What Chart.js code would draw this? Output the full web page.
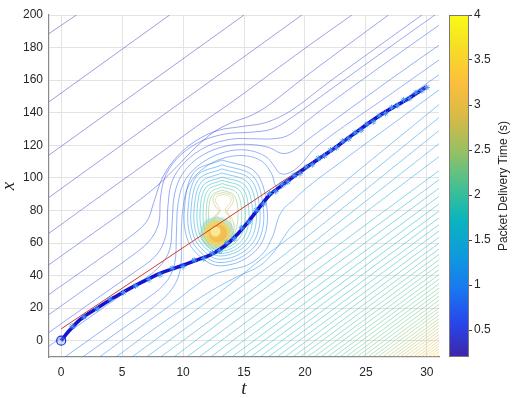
<!DOCTYPE html>
<html><head><meta charset="utf-8">
<script src="https://cdn.jsdelivr.net/npm/chart.js@4"></script>
<style>
html,body{margin:0;padding:0;background:#fff;}
#wrap{position:relative;width:515px;height:398px;}
#main{position:absolute;left:0;top:0;}
#cbar{position:absolute;left:440px;top:0;}
</style></head>
<body><div id="wrap"><canvas id="main" width="515" height="398"></canvas><canvas id="cbar" width="75" height="398"></canvas></div>
<script>
// ---------------- DATA ----------------
const tTicks = [0, 5, 10, 15, 20, 25, 30];
const xTicks = [0, 20, 40, 60, 80, 100, 120, 140, 160, 180, 200];
const cbTicks = [0.5, 1, 1.5, 2, 2.5, 3, 3.5, 4];
const cbRange = [0.2, 4];

// reference (red) line
const refT = [0, 30];
const refX = [7.3, 156.8];

// trajectory (thick blue)
const trajT = [0,0.5,0.96,1.5,2.05,3,3.96,5,5.87,7.24,8.06,9,9.97,11.07,12.16,12.98,13.8,14.5,15.44,16.5,17.17,17.6,18.3,19.07,21,22.3,23.7,26.4,28.2,29.9];
const trajX = [0,4.8,8.6,12.6,15.7,20.3,24.9,29.4,33.1,38.2,41.2,43.8,46.3,49.4,52.4,55.9,60.6,65.7,73.9,84.1,90,92.5,96.6,100.8,111,117.5,125.3,139.6,147.3,155.5];

// measured packets (light blue stars)
const markT = [0.9,1.85,2.95,4.0,5.1,6.1,7.2,8.1,9.1,10.0,10.9,11.7,12.4,13.0,13.6,14.2,14.8,15.4,16.0,16.6,17.1,17.6,18.1,18.6,19.1,19.6,20.1,20.6,21.1,21.6,22.1,22.6,23.1,23.6,24.1,24.6,25.1,25.6,26.1,26.6,27.1,27.6,28.1,28.6,29.1,29.6,30.0];
const markX = [8.9,14.7,19.6,25.5,29.6,33.7,37.6,40.5,44.5,45.6,49.5,50.4,53.8,55.2,60.2,62.6,69.3,72.8,80.1,84.0,90.4,91.7,96.3,97.6,101.5,102.7,106.7,108.1,112.0,113.5,117.0,118.6,122.5,124.0,127.7,129.2,132.9,134.4,138.1,139.6,143.1,144.5,147.9,148.9,152.3,153.6,155.5];

// start point
const startT = [0];
const startX = [0];

// contour lines of packet delivery time: level (s) and path [t, x]
const contourLevels = [
  0.25,0.29,0.33,0.37,0.42,
  0.5,0.55,0.6,0.66,0.72,0.78,0.85,1.0,1.1,1.2,1.28,1.35,1.4,
  1.45,1.5,1.55,1.6,1.64,1.68,1.72,1.76,1.8,1.84,1.88,1.92,1.96,2.0,2.03,2.06,2.09,2.12,2.15,2.18,2.21,2.24,2.27,2.3,2.35,2.4,2.46,2.52,2.58,2.64,2.7,2.77,2.84,2.91,2.98,3.05,3.12,3.19,3.26,3.33,3.4,
  0.9,1.05,1.2,1.35,1.5,1.7,1.9,2.1,2.35,2.6,2.9
];
const contourPaths = [
  [[-1,188.6],[1.25,200]],
  [[-1,146.7],[8.9,200]],
  [[-1,114],[15.0,200]],
  [[-1,88],[19.75,200]],
  [[-1,66],[4,93],[8,114.5],[11,131],[14,146.5],[17,163],[20,179.5],[23.85,200]],
  [[-1,46.7],[3,68],[6,84],[8,96],[9.5,107],[11,118.5],[12.5,128],[14,134],[15.5,138],[17,144.5],[20,162],[26.85,200]],
  [[-1,28.4],[3,49.5],[5.5,63],[7,73],[7.6,85],[8.3,100],[9.5,113],[11,122.5],[12.8,129],[14.8,131.5],[16.8,134],[18.8,141],[22,159],[29.6,200]],
  [[-1,16.1],[3,37.3],[5.5,50.5],[7.2,61],[8.0,72],[8.15,88],[8.6,102],[9.8,114],[11.5,122.5],[13.5,127],[15.5,128],[17.3,130],[19,137.5],[21.5,151],[26.9,180],[31,201.8]],
  [[-1,5.1],[3,26.3],[5.8,41],[7.8,52.5],[8.6,65],[8.75,82],[9.1,98],[10.2,110],[12,119.5],[14,123.8],[15.8,124],[17.4,124],[18.6,126],[20,134],[22,145.5],[26.9,172],[31,193.7]],
  [[-1,-3.3],[3,17.9],[6,33.7],[8,45],[8.9,56],[9.1,72],[9.3,90],[10,103],[11.5,113.5],[13.5,119.5],[15.5,120.5],[17.1,118.5],[18.1,115],[19,116.5],[20.5,125],[26.9,159.8],[31,181.5]],
  [[0.3,-10],[3.5,7],[6.5,23],[8.5,35],[9.3,47],[9.45,65],[9.6,85],[10.2,99],[11.6,109.5],[13.5,116],[15.3,117],[16.8,113],[17.5,107],[17.9,103],[18.5,102.5],[19.5,107],[21,119.4],[26.9,150.7],[31,172.4]],
  [[1.75,-10],[5,7.2],[7.7,21.5],[9.2,33],[9.8,45],[9.85,64],[10,82],[10.5,96],[11.8,106.5],[13.5,112.5],[15.2,113.5],[16.5,110],[17.3,102],[17.6,95],[18.1,93.5],[19,99.7],[21,110.3],[26.9,141.6],[31,163.3]],
  [[3.15,-10],[6.5,8.5],[9,22],[10.8,32.5],[12.3,40],[13.8,43.5],[15.3,46.5],[16.6,54],[17.4,65],[17.8,75],[18.3,81.5],[19,86],[20,93],[22,104.5],[31,154]],
  [[4.5,-10],[8,9.3],[10.5,22],[12.5,31.5],[14.5,39.5],[16.3,46],[17.5,55],[18.3,64],[18.9,70],[19.7,75],[21,84],[23,96],[31,145]],
  [[5.8,-10],[11,18.5],[14,35.5],[17,53.5],[20,70.5],[31,137]],
  [[7,-10],[12,17.5],[15,34.5],[18,51],[31,129]],
  [[8.15,-10],[13,16.5],[16,33],[31,121]],
  [[9.25,-10],[31,113]],
  [[10.3,-10],[48.3,200]],[[11.3,-10],[49.3,200]],[[12.25,-10],[50.25,200]],[[13.15,-10],[51.15,200]],
  [[14.0,-10],[52.0,200]],[[14.8,-10],[52.8,200]],[[15.55,-10],[53.55,200]],[[16.3,-10],[54.3,200]],
  [[17.0,-10],[55.0,200]],[[17.7,-10],[55.7,200]],[[18.35,-10],[56.35,200]],[[19.0,-10],[57.0,200]],
  [[19.6,-10],[57.6,200]],[[20.2,-10],[58.2,200]],[[20.75,-10],[58.75,200]],[[21.3,-10],[59.3,200]],
  [[21.85,-10],[59.85,200]],[[22.35,-10],[60.35,200]],[[22.85,-10],[60.85,200]],[[23.35,-10],[61.35,200]],
  [[23.8,-10],[61.8,200]],[[24.25,-10],[62.25,200]],[[24.7,-10],[62.7,200]],[[25.15,-10],[63.15,200]],
  [[25.55,-10],[63.55,200]],[[25.95,-10],[63.95,200]],[[26.35,-10],[64.35,200]],[[26.75,-10],[64.75,200]],
  [[27.1,-10],[65.1,200]],[[27.45,-10],[65.45,200]],[[27.8,-10],[65.8,200]],[[28.15,-10],[66.15,200]],
  [[28.5,-10],[66.5,200]],[[28.85,-10],[66.85,200]],[[29.2,-10],[67.2,200]],[[29.5,-10],[67.5,200]],
  [[29.8,-10],[67.8,200]],[[30.1,-10],[68.1,200]],[[30.4,-10],[68.4,200]],[[30.7,-10],[68.7,200]],
  [[31.0,-10],[69.0,200]],
  // closed rings around the congestion peak
  [[13.2,111],[15.98,103.25],[16.9,80],[16.53,61.3],[15.05,50.08],[13.0,46],[11.65,50.08],[10.41,61.3],[10.1,80],[10.88,103.25],[13.2,111]],
  [[13.2,108],[15.75,101],[16.6,80],[16.26,62.4],[14.9,51.84],[13.0,48],[11.8,51.84],[10.68,62.4],[10.4,80],[11.1,101],[13.2,108]],
  [[13.2,105.5],[15.53,99.13],[16.3,80],[15.99,63.5],[14.75,53.6],[13.0,50],[11.93,53.6],[10.91,63.5],[10.65,80],[11.29,99.13],[13.2,105.5]],
  [[13.2,103],[15.3,97.25],[16.0,80],[15.72,64.6],[14.6,55.36],[13.0,52],[12.05,55.36],[11.13,64.6],[10.9,80],[11.48,97.25],[13.2,103]],
  [[13.2,100.5],[15.08,95.38],[15.7,80],[15.45,65.43],[14.45,56.68],[13.0,53.5],[12.18,56.68],[11.36,65.43],[11.15,80],[11.66,95.38],[13.2,100.5]],
  [[13.2,98.5],[14.85,93.88],[15.4,80],[15.18,66.25],[14.3,58],[13.0,55],[12.3,58],[11.58,66.25],[11.4,80],[11.85,93.88],[13.2,98.5]],
  [[13.2,96.5],[14.63,92.38],[15.1,80],[14.91,67.08],[14.15,59.32],[13.0,56.5],[12.43,59.32],[11.81,67.08],[11.65,80],[12.04,92.38],[13.2,96.5]],
  [[13.2,94.5],[14.4,90.88],[14.8,80],[14.64,67.9],[14.0,60.64],[13.0,58],[12.55,60.64],[12.03,67.9],[11.9,80],[12.23,90.88],[13.2,94.5]],
  [[13.2,92.5],[14.18,89.38],[14.5,80],[14.37,68.73],[13.85,61.96],[13.0,59.5],[12.65,61.96],[12.21,68.73],[12.1,80],[12.38,89.38],[13.2,92.5]],
  [[13.3,91],[13.95,89.5],[14.15,86],[13.85,82],[13.6,79.5],[14.0,75],[14.2,69.5],[13.85,63.5],[13.0,61],[12.35,63],[12.25,69],[12.45,75],[12.95,79.5],[12.7,82],[12.45,86],[12.6,89.5],[13.3,91]],
  [[13.3,89.8],[13.8,88.7],[13.95,86],[13.7,83],[13.45,80],[13.8,75.5],[13.95,70],[13.65,64.5],[13.0,62.5],[12.55,64.3],[12.45,69.5],[12.6,75],[13.05,80],[12.85,83],[12.65,86],[12.8,88.7],[13.3,89.8]]
];

// peak of delivery time (filled core, outer to inner)
const peakPaths = [
  [[12.8,76.4],[13.78,73.36],[14.19,66],[13.78,58.64],[12.8,55.6],[11.82,58.64],[11.41,66],[11.82,73.36],[12.8,76.4]],
  [[12.8,73.96],[13.55,71.63],[13.87,66],[13.55,60.37],[12.8,58.04],[12.05,60.37],[11.73,66],[12.05,71.63],[12.8,73.96]],
  [[12.85,71.5],[13.37,69.9],[13.59,66],[13.37,62.1],[12.85,60.5],[12.33,62.1],[12.11,66],[12.33,69.9],[12.85,71.5]],
  [[12.65,70.06],[12.94,69.16],[13.06,67],[12.94,64.84],[12.65,63.94],[12.36,64.84],[12.24,67],[12.36,69.16],[12.65,70.06]]
];

// ---------------- STYLE HELPERS ----------------
const PARULA = [
  [0.00,[62,38,168]],[0.10,[40,70,235]],[0.20,[25,120,240]],[0.30,[15,155,220]],
  [0.40,[10,180,190]],[0.50,[70,192,145]],[0.60,[150,192,100]],[0.70,[215,186,70]],
  [0.80,[252,190,60]],[0.90,[246,220,40]],[1.00,[249,251,20]]
];
function parula(p){
  p = Math.max(0, Math.min(1, p));
  for (let i = 1; i < PARULA.length; i++) {
    if (p <= PARULA[i][0]) {
      const [p0,c0] = PARULA[i-1], [p1,c1] = PARULA[i];
      const f = (p - p0) / (p1 - p0);
      return c0.map((v,k)=>Math.round(v + f*(c1[k]-v)));
    }
  }
  return PARULA[PARULA.length-1][1];
}
function levelColor(z, a){
  const c = parula((z - cbRange[0])/(cbRange[1]-cbRange[0]));
  return `rgba(${c[0]},${c[1]},${c[2]},${a})`;
}
const pts = (ts, xs) => ts.map((t,i)=>({x:t, y:xs[i]}));
const pathPts = p => p.map(q=>({x:q[0], y:q[1]}));

// ---------------- DATASETS ----------------
const datasets = [];
datasets.push({ label:'start', data: pts(startT,startX), showLine:false,
  pointStyle:'circle', pointRadius:4.5, borderColor:'#1a2fd6', borderWidth:1.2, backgroundColor:'rgba(120,170,240,0.35)' });
datasets.push({ label:'packets', data: pts(markT,markX), showLine:false,
  pointStyle:'star', pointRadius:3, borderColor:'rgba(70,150,240,0.95)', borderWidth:1, backgroundColor:'rgba(0,0,0,0)' });
datasets.push({ label:'trajectory', data: pts(trajT,trajX), showLine:true, pointRadius:0,
  borderColor:'#1414d0', borderWidth:3.6, tension:0.35, cubicInterpolationMode:'monotone' });
datasets.push({ label:'reference', data: pts(refT,refX), showLine:true, pointRadius:0,
  borderColor:'#d23a2c', borderWidth:1 });
const peakFill = ['rgba(130,210,180,0.5)','rgba(238,214,105,0.9)','rgba(246,186,78,0.85)','rgba(252,236,150,0.95)'];
for (let i = peakPaths.length-1; i >= 0; i--) {
  datasets.push({ label:'peak'+i, data: pathPts(peakPaths[i]), showLine:true, pointRadius:0,
    borderColor: peakFill[i], borderWidth:1, backgroundColor: peakFill[i], fill:'shape', tension:0.4, blur:true });
}
contourPaths.forEach((p,i)=>{
  datasets.push({ label:'c'+i, data: pathPts(p), showLine:true, pointRadius:0,
    borderColor: levelColor(contourLevels[i], 0.6), borderWidth:0.8, tension: p.length>2?0.35:0, fill:false });
});

const blurPlugin = {
  id:'blurPeak',
  beforeDatasetDraw(chart, args){ const ds = chart.data.datasets[args.index]; if (ds.blur){ chart.ctx.save(); chart.ctx.filter='blur(2px)'; } },
  afterDatasetDraw(chart, args){ const ds = chart.data.datasets[args.index]; if (ds.blur){ chart.ctx.restore(); } }
};
const axisTitles = {
  id:'axisTitles',
  afterDraw(chart){
    const c = chart.ctx; c.save();
    c.fillStyle = '#262626';
    c.font = 'italic 19px "Liberation Serif", "DejaVu Serif", serif';
    c.textAlign = 'center'; c.textBaseline = 'middle';
    c.fillText('t', 244, 389);
    c.translate(9, 186); c.rotate(-Math.PI/2);
    c.fillText('x', 0, 0);
    c.restore();
  }
};

const tickFont = { family:'"Liberation Sans", Arial, sans-serif', size:12 };
new Chart(document.getElementById('main'), {
  type:'scatter',
  data:{ datasets },
  options:{
    animation:false, responsive:false, devicePixelRatio:1,
    layout:{ padding:{ left:0, right:76, top:15, bottom:0 } },
    plugins:{ legend:{display:false}, tooltip:{enabled:false} },
    scales:{
      x:{ type:'linear', min:-1, max:31,
        afterBuildTicks: s => { s.ticks = tTicks.map(v=>({value:v})); },
        afterFit: s => { s.height = 41; },
        grid:{ color:'#e3e3e3', lineWidth:1, drawTicks:false },
        border:{ color:'#8a8a8a', width:1.2 },
        ticks:{ font:tickFont, color:'#262626', padding:8, maxRotation:0 } },
      y:{ type:'linear', min:-10, max:200,
        afterBuildTicks: s => { s.ticks = xTicks.map(v=>({value:v})); },
        afterFit: s => { s.width = 49; },
        grid:{ color:'#e3e3e3', lineWidth:1, drawTicks:false },
        border:{ color:'#8a8a8a', width:1.2 },
        ticks:{ font:tickFont, color:'#262626', padding:6 } }
    }
  },
  plugins:[blurPlugin, axisTitles]
});

// ---------------- COLORBAR ----------------
const cbTitle = {
  id:'cbTitle',
  afterDraw(chart){
    const c = chart.ctx, a = chart.chartArea; c.save();
    c.strokeStyle = '#7a7a7a'; c.lineWidth = 1;
    c.strokeRect(a.left+0.5, a.top+0.5, a.right-a.left-1, a.bottom-a.top-1);
    c.fillStyle = '#262626';
    c.font = '12px "Liberation Sans", Arial, sans-serif';
    c.textAlign = 'center'; c.textBaseline = 'middle';
    c.translate(64, (a.top+a.bottom)/2); c.rotate(-Math.PI/2);
    c.fillText('Packet Delivery Time (s)', 0, 0);
    c.restore();
  }
};
new Chart(document.getElementById('cbar'), {
  type:'bar',
  data:{ labels:['cb'], datasets:[{ data:[cbRange], barPercentage:1, categoryPercentage:1, borderWidth:0,
    backgroundColor: (ctx) => {
      const ch = ctx.chart, a = ch.chartArea; if (!a) return '#888';
      const g = ch.ctx.createLinearGradient(0, a.bottom, 0, a.top);
      PARULA.forEach(([p,c]) => g.addColorStop(p, `rgb(${c[0]},${c[1]},${c[2]})`));
      return g;
    } }] },
  options:{
    animation:false, responsive:false, devicePixelRatio:1,
    layout:{ padding:{ left:9, right:0, top:15, bottom:41 } },
    plugins:{ legend:{display:false}, tooltip:{enabled:false} },
    scales:{
      x:{ display:false },
      y:{ position:'right', min:cbRange[0], max:cbRange[1],
        afterBuildTicks: s => { s.ticks = cbTicks.map(v=>({value:v})); },
        afterFit: s => { s.width = 46; },
        grid:{ drawOnChartArea:false, drawTicks:true, tickLength:3, color:'#444' },
        border:{ display:false },
        ticks:{ font:tickFont, color:'#262626', padding:2, callback: v => String(v) } }
    }
  },
  plugins:[cbTitle]
});
</script>
</body></html>
